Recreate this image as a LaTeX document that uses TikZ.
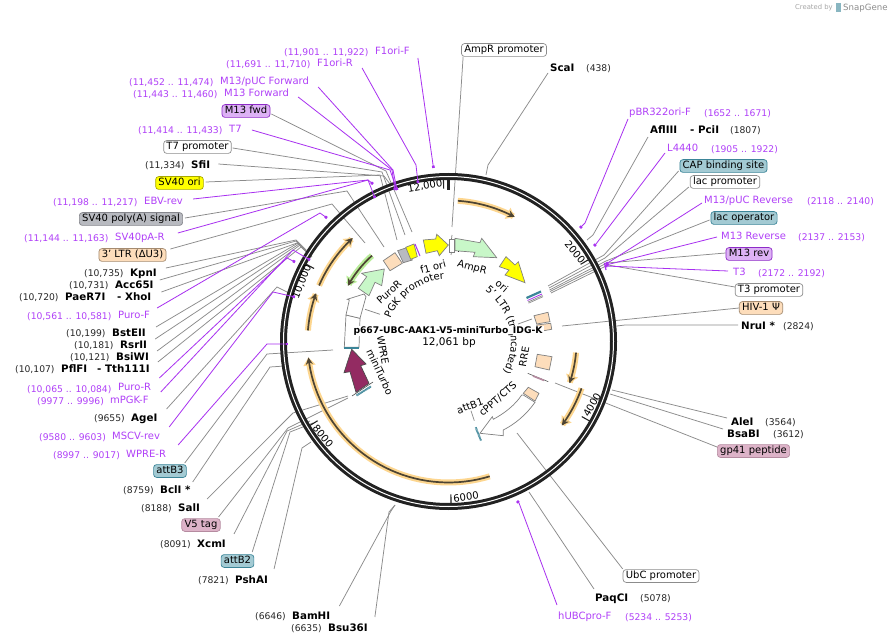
\documentclass[tikz,border=0pt]{standalone}
\usepackage{fontspec}
\setmainfont{DejaVu Sans}
\usetikzlibrary{arrows.meta,decorations.text}
\definecolor{primtxt}{HTML}{B040F8}
\definecolor{primline}{HTML}{A830F0}
\definecolor{leadgrey}{HTML}{8C8C8C}
\definecolor{ringblack}{HTML}{222222}
\definecolor{peach}{HTML}{FDDDBB}
\definecolor{peachd}{HTML}{A58B70}
\definecolor{teal1}{HTML}{A3CAD3}
\definecolor{teal2}{HTML}{3B8598}
\definecolor{mauve}{HTML}{DDB3C8}
\definecolor{mauved}{HTML}{B58BA0}
\definecolor{lilac}{HTML}{DDB2F5}
\definecolor{lilacd}{HTML}{8E2BC8}
\definecolor{greyb}{HTML}{B8BAC0}
\definecolor{greybd}{HTML}{85868C}
\definecolor{sv}{HTML}{FFFF00}
\definecolor{svd}{HTML}{A8A800}
\definecolor{halo}{HTML}{FDD68F}
\definecolor{darkarc}{HTML}{4D4433}
\definecolor{mint}{HTML}{C8F7C8}
\definecolor{haloG}{HTML}{B8EC98}
\definecolor{magenta1}{HTML}{932B62}
\definecolor{featline}{HTML}{808080}
\tikzset{
  enz/.style={anchor=base west,inner sep=0pt,font=\fontsize{10.3}{12}\selectfont\bfseries,text=black},
  posn/.style={anchor=base west,inner sep=0pt,font=\fontsize{9.2}{11}\selectfont,text=black!85},
  prim/.style={anchor=base west,inner sep=0pt,font=\fontsize{10}{12}\selectfont,text=primtxt},
  ppos/.style={anchor=base west,inner sep=0pt,font=\fontsize{9.2}{11}\selectfont,text=primtxt},
  fbox/.style={rounded corners=3pt,line width=.7pt,inner xsep=2.8pt,inner ysep=1.6pt,font=\fontsize{10}{12}\selectfont,text height=7.6pt,text depth=2pt,anchor=center},
  whitebox/.style={fbox,draw=leadgrey,fill=white},
  tealbox/.style={fbox,draw=teal2,fill=teal1},
  peachbox/.style={fbox,draw=peachd,fill=peach},
  mauvebox/.style={fbox,draw=mauved,fill=mauve},
  lilacbox/.style={fbox,draw=lilacd,fill=lilac},
  lead/.style={draw=leadgrey,line width=.75pt},
  plead/.style={draw=primline,line width=.8pt,-{Square[length=2.4pt,width=2.6pt]}},
  plab/.style={font=\fontsize{10}{12}\selectfont,inner sep=0pt},
  tickn/.style={font=\fontsize{10}{12}\selectfont,inner sep=0pt},
  feat/.style={draw=featline,line width=.7pt},
}
\newcommand{\orangearc}[3]{%
  \draw[halo,line width=6pt,-{Triangle[length=8pt,width=12pt]}] plot[domain=#2:#3,samples=40] ({448.5+#1*sin(\x)},{341.5-#1*cos(\x)});
  \draw[darkarc,line width=1.7pt,-{Stealth[length=7pt,width=7pt]}] plot[domain=#2:#3,samples=40] ({448.5+#1*sin(\x)},{341.5-#1*cos(\x)});}
\newcommand{\ringtick}[1]{%
  \draw[ringblack,line width=1.1pt] ({448.5+153*sin(#1)},{341.5-153*cos(#1)}) -- ({448.5+162*sin(#1)},{341.5-162*cos(#1)});}
\begin{document}
\begin{tikzpicture}[x=1pt,y=-1pt]
\useasboundingbox (0,0) rectangle (892,644);
\fill[white] (0,0) rectangle (892,644);

% watermark
\node[anchor=base west,inner sep=0pt,font=\fontsize{6.8}{8}\selectfont,text=black!35] (wm1) at (795,10) {Created by};
\fill[teal2!60] (836,3) rectangle (841,12);
\node[anchor=base west,inner sep=0pt,font=\fontsize{8.6}{10}\selectfont,text=black!45] (wm2) at (843,11) {SnapGene};

% ---------- labels, left
\node[ppos] (f1fp) at (284,56) {(11,901 .. 11,922)};
\node[prim] (f1f) at (375,55) {F1ori-F};
\node[ppos] (f1rp) at (226,68) {(11,691 .. 11,710)};
\node[prim] (f1r) at (317,67) {F1ori-R};
\node[ppos] (mpfp) at (129,86) {(11,452 .. 11,474)};
\node[prim] (mpf) at (220,85) {M13/pUC Forward};
\node[ppos] (mffp) at (133,98) {(11,443 .. 11,460)};
\node[prim] (mff) at (224,97) {M13 Forward};
\node[lilacbox] (mfwd) at (246,111) {M13 fwd};
\node[ppos] (t7pp) at (138,134) {(11,414 .. 11,433)};
\node[prim] (t7) at (229,133) {T7};
\node[whitebox] (t7prom) at (197.5,147) {T7 promoter};
\node[posn] (sfip) at (145,169) {(11,334)};
\node[enz] (sfi) at (191,169) {SfiI};
\node[fbox,draw=svd,fill=sv] (svori) at (179.5,183) {SV40 ori};
\node[ppos] (ebvp) at (53,206) {(11,198 .. 11,217)};
\node[prim] (ebv) at (144,205) {EBV-rev};
\node[fbox,draw=greybd,fill=greyb] (svpa) at (131,219) {SV40 poly(A) signal};
\node[ppos] (sprp) at (24,242) {(11,144 .. 11,163)};
\node[prim] (spr) at (115,241) {SV40pA-R};
\node[peachbox] (ltr3) at (132.5,255) {3' LTR (ΔU3)};
\node[posn] (kpnp) at (84,277) {(10,735)};
\node[enz] (kpn) at (130,277) {KpnI};
\node[posn] (accp) at (69,289) {(10,731)};
\node[enz] (acc) at (115,289) {Acc65I};
\node[posn] (paep) at (19,301) {(10,720)};
\node[enz] (pae) at (65,301) {PaeR7I};
\node[enz] (xho) at (117,301) {- XhoI};
\node[ppos] (pfp) at (27,320) {(10,561 .. 10,581)};
\node[prim] (pf) at (118,319) {Puro-F};
\node[posn] (bstp) at (66,337) {(10,199)};
\node[enz] (bst) at (112,337) {BstEII};
\node[posn] (rsrp) at (74,349) {(10,181)};
\node[enz] (rsr) at (120,349) {RsrII};
\node[posn] (bsip) at (70,361) {(10,121)};
\node[enz] (bsi) at (116,361) {BsiWI};
\node[posn] (pflp) at (15,373) {(10,107)};
\node[enz] (pfl) at (61,373) {PflFI};
\node[enz] (tth) at (97,373) {- Tth111I};
\node[ppos] (prp) at (27,392) {(10,065 .. 10,084)};
\node[prim] (pr) at (118,391) {Puro-R};
\node[ppos] (mpgp) at (37,404) {(9977 .. 9996)};
\node[prim] (mpg) at (110,403) {mPGK-F};
\node[posn] (agep) at (94,421) {(9655)};
\node[enz] (age) at (131,421) {AgeI};
\node[ppos] (mscp) at (39,440) {(9580 .. 9603)};
\node[prim] (msc) at (112,439) {MSCV-rev};
\node[ppos] (wprp) at (53,458) {(8997 .. 9017)};
\node[prim] (wpr) at (126,457) {WPRE-R};
\node[tealbox] (attb3) at (170,471) {attB3};
\node[posn] (bclp) at (123,493) {(8759)};
\node[enz] (bcl) at (160,493) {BclI *};
\node[posn] (salp) at (141,511) {(8188)};
\node[enz] (sal) at (178,511) {SalI};
\node[mauvebox] (v5) at (201,525) {V5 tag};
\node[posn] (xcmp) at (160,547) {(8091)};
\node[enz] (xcm) at (197,547) {XcmI};
\node[tealbox] (attb2) at (237.5,561) {attB2};
\node[posn] (pshp) at (198,583) {(7821)};
\node[enz] (psh) at (235,583) {PshAI};
\node[posn] (bamp) at (255,619) {(6646)};
\node[enz] (bam) at (292,619) {BamHI};
\node[posn] (bsup) at (291,631) {(6635)};
\node[enz] (bsu) at (328,631) {Bsu36I};

% ---------- labels, top and right
\node[whitebox] (ampp) at (504,50) {AmpR promoter};
\node[enz] (sca) at (550,72) {ScaI};
\node[posn] (scap) at (586,72) {(438)};
\node[prim] (pbr) at (629,116) {pBR322ori-F};
\node[ppos] (pbrp) at (704,117) {(1652 .. 1671)};
\node[enz] (afl) at (650,134) {AflIII};
\node[enz] (pci) at (690,134) {- PciI};
\node[posn] (aflp) at (730,134) {(1807)};
\node[prim] (l44) at (667,152) {L4440};
\node[ppos] (l44p) at (711,153) {(1905 .. 1922)};
\node[tealbox] (cap) at (723.5,166) {CAP binding site};
\node[whitebox] (lacp) at (725,182) {lac promoter};
\node[prim] (mpr) at (704,204) {M13/pUC Reverse};
\node[ppos] (mprp) at (807,205) {(2118 .. 2140)};
\node[tealbox] (laco) at (744,218) {lac operator};
\node[prim] (mr) at (721,240) {M13 Reverse};
\node[ppos] (mrp) at (798,241) {(2137 .. 2153)};
\node[lilacbox] (mrev) at (749,254) {M13 rev};
\node[prim] (t3) at (733,276) {T3};
\node[ppos] (t3p) at (758,277) {(2172 .. 2192)};
\node[whitebox] (t3prom) at (769,290) {T3 promoter};
\node[peachbox] (hiv) at (761,308) {HIV-1 Ψ};
\node[enz] (nru) at (741,330) {NruI *};
\node[posn] (nrup) at (783,330) {(2824)};
\node[enz] (ale) at (731,425) {AleI};
\node[posn] (alep) at (765,425) {(3564)};
\node[enz] (bsa) at (727,437) {BsaBI};
\node[posn] (bsap) at (773,437) {(3612)};
\node[mauvebox] (gp) at (753.5,451) {gp41 peptide};
\node[whitebox] (ubc) at (661,576) {UbC promoter};
\node[enz] (paq) at (595,601) {PaqCI};
\node[posn] (paqp) at (640,601) {(5078)};
\node[prim] (hub) at (558,619) {hUBCpro-F};
\node[ppos] (hubp) at (625,620) {(5234 .. 5253)};

% ---------- grey leaders (under ring)
\draw[lead] ([shift={(1,3)}]mfwd.east) -- (386,171) coordinate (mfwdA) -- (412,232) coordinate (mfwdB);
\draw[lead] ([shift={(1,1)}]t7prom.east) -- (382,172) coordinate (t7pA) -- (405,235) coordinate (t7pB);
\draw[lead] ([shift={(8,-5)}]sfi.base east) -- (384,176) coordinate (sfiA) -- (393,188) coordinate (sfiB);
\draw[lead] ([shift={(2,-1)}]svori.east) -- (380,175) coordinate (svoA) -- (397,240) coordinate (svoB);
\draw[lead] ([shift={(2,-1)}]svpa.east) -- (347,191) coordinate (spaA) -- (384,247) coordinate (spaB);
\draw[lead] ([shift={(4,-6)}]ltr3.east) -- (332,204) coordinate (ltrA) -- (365,243) coordinate (ltrB);
\draw[lead] ([shift={(9,-9)}]kpn.base east) -- (296,240) coordinate (kpnA) -- (306,250) coordinate (kpnB);
\draw[lead] ([shift={(6,-9)}]acc.base east) -- (296,241) coordinate (accA) -- (307,252) coordinate (accB);
\draw[lead] ([shift={(10,-9)}]xho.base east) -- (297,243) coordinate (xhoA) -- (308,253) coordinate (xhoB);
\draw[lead] ([shift={(10,-10)}]bst.base east) -- (298,243) coordinate (bstA) -- (309,254) coordinate (bstB);
\draw[lead] ([shift={(8,-10)}]rsr.base east) -- (299,244) coordinate (rsrA) -- (310,255) coordinate (rsrB);
\draw[lead] ([shift={(8,-10)}]bsi.base east) -- (300,245) coordinate (bsiA) -- (311,256) coordinate (bsiB);
\draw[lead] ([shift={(8,-11)}]tth.base east) -- (301,247) coordinate (tthA) -- (312,257) coordinate (tthB);
\draw[lead] ([shift={(9,-12)}]age.base east) -- (277,287) coordinate (ageA) -- (293,295) coordinate (ageB);
\draw[lead] ([shift={(-2,-8)}]attb3.east) -- (267,354) coordinate (att3A) -- (333,350) coordinate (att3B);
\draw[lead] ([shift={(2,-11)}]bcl.base east) -- (270,367) coordinate (bclA) -- (285,366) coordinate (bclB);
\draw[lead] ([shift={(7,-12)}]sal.base east) -- (293,413) coordinate (salA) -- (348,396) coordinate (salB);
\draw[lead] ([shift={(-2,-8)}]v5.east) -- (288,428) coordinate (v5A) -- (348,398) coordinate (v5B);
\draw[lead] ([shift={(8,-13)}]xcm.base east) -- (287,431) coordinate (xcmA) -- (310,421) coordinate (xcmB);
\draw[lead] ([shift={(-2,-9)}]attb2.east) -- (290,432) coordinate (at2A) -- (313,423) coordinate (at2B);
\draw[lead] ([shift={(6,-14)}]psh.base east) -- (302,448) coordinate (pshA) -- (311,442) coordinate (pshB);
\draw[lead] ([shift={(9,-13)}]bam.base east) -- (391,511) coordinate (bamA) -- (395,505) coordinate (bamB);
\draw[lead] ([shift={(7,-14)}]bsu.base east) -- (389,512) coordinate (bsuA) -- (395,505) coordinate (bsuB);
\draw[lead] ([shift={(2,0)}]ampp.south west) -- (452,227) coordinate (amppA);
\draw[lead] ([shift={(-2,1)}]sca.base west) -- (488,165) coordinate (scaA) -- (486,175) coordinate (scaB);
\draw[lead] ([shift={(-2,3)}]afl.base west) -- (593,235) coordinate (aflA) -- (587,240) coordinate (aflB);
\draw[lead] ([shift={(-1,5)}]cap.west) -- (604,255) coordinate (capA) -- (548,286) coordinate (capB);
\draw[lead] ([shift={(-1,5)}]lacp.west) -- (605,258) coordinate (lpA) -- (549,288) coordinate (lpB);
\draw[lead] ([shift={(-1,2)}]laco.west) -- (606,261) coordinate (loA) -- (549.5,290) coordinate (loB);
\draw[lead] ([shift={(0,-1)}]mrev.west) -- (607,263) coordinate (mrA) -- (550,291.5) coordinate (mrB);
\draw[lead] ([shift={(0,-3)}]t3prom.west) -- (608,265) coordinate (t3A) -- (551,293) coordinate (t3B);
\draw[lead] (hiv.west) -- (562,326) coordinate (hivA);
\draw[lead] ([shift={(-3,-5)}]nru.base west) -- (625,325) coordinate (nruA) -- (617,326) coordinate (nruB);
\draw[lead] ([shift={(-4,-7)}]ale.base west) -- (612,390) coordinate (aleA);
\draw[lead] ([shift={(-4,-8)}]bsa.base west) -- (610,394) coordinate (bsaA);
\draw[lead] ([shift={(0,-4)}]gp.west) -- (555,383) coordinate (gpA);
\draw[lead] ([shift={(0,-7)}]ubc.west) -- (517,433) coordinate (ubcA);
\draw[lead] ([shift={(-1,-12)}]paq.base west) -- (529,492) coordinate (paqA);

% ---------- ring
\draw[ringblack,line width=7pt] (448.5,341.5) circle[radius=165pt];
\draw[white,line width=1pt] (448.5,341.5) circle[radius=165pt];
\ringtick{-1.8}\ringtick{59.7}\ringtick{119.4}\ringtick{179.1}\ringtick{238.8}\ringtick{298.5}
\draw[ringblack,line width=3pt] (448.5,178) -- (448.5,190);

\node[tickn,rotate=10] (n12) at (425,186) {12,000};
\node[tickn,rotate=-50] (n2) at (575,252) {2000};
\node[tickn,rotate=60] (n4) at (592,405) {4000};
\node[tickn,rotate=8] (n6) at (466,497) {6000};
\node[tickn,rotate=-50] (n8) at (323,436) {8000};
\node[tickn,rotate=68] (n10) at (302,282) {10,000};

% ---------- purple leaders (over ring)
\draw[plead] ([shift={(8,3)}]f1f.base east) -- (433.5,168) coordinate (f1fA);
\draw[plead] ([shift={(9,1)}]f1r.base east) -- (416,165) coordinate (f1rA) -- (418,183) coordinate (f1rB);
\draw[plead] ([shift={(9,2)}]mpf.base east) -- (393,170) coordinate (mpfA) -- (397,190) coordinate (mpfB);
\draw[plead] ([shift={(9,0)}]mff.base east) -- (392,170) coordinate (mffA) -- (395,190) coordinate (mffB);
\draw[plead] ([shift={(10,-3)}]t7.base east) -- (390,170) coordinate (t7A) -- (397,190) coordinate (t7B);
\draw[plead] ([shift={(10,-6)}]ebv.base east) -- (368,180) coordinate (ebvA) -- (373,184) coordinate (ebvB);
\draw[plead] ([shift={(13,-8)}]spr.base east) -- (368,180) coordinate (sprA) -- (375,198) coordinate (sprB);
\draw[plead] ([shift={(7,-11)}]pf.base east) -- (320,213) coordinate (pfA) -- (327,218) coordinate (pfB);
\draw[plead] ([shift={(8,-13)}]pr.base east) -- (287,258) coordinate (prA) -- (295,262) coordinate (prB);
\draw[plead] ([shift={(12,-11)}]mpg.base east) -- (293,250) coordinate (mpgA) -- (310,260) coordinate (mpgB);
\draw[plead] ([shift={(9,-12)}]msc.base east) -- (273,292) coordinate (mscA) -- (295,297) coordinate (mscB);
\draw[plead] ([shift={(12,-12)}]wpr.base east) -- (267,344) coordinate (wprA) -- (288,344) coordinate (wprB);
\draw[plead] ([shift={(-1,3)}]pbr.base west) -- (585,223) coordinate (pbrA) -- (580,228) coordinate (pbrB);
\draw[plead] ([shift={(-2,1)}]l44.base west) -- (596,244) coordinate (l44A) -- (594,246) coordinate (l44B);
\draw[plead] ([shift={(-2,-1)}]mpr.base west) -- (606,264) coordinate (mprA);
\draw[plead] ([shift={(-4,-3)}]mr.base west) -- (606,265) coordinate (mrrA);
\draw[plead] ([shift={(-5,-5)}]t3.base west) -- (605,266) coordinate (t3rA);
\draw[draw=primline,line width=1.2pt] (604.5,263) -- (606,270);
\draw[plead] ([shift={(-1,-14)}]hub.base west) -- (519,503) coordinate (hubA) -- (517,501) coordinate (hubB);

% ---------- inner arcs
\orangearc{141}{3.8}{28}
\orangearc{128}{95}{109}
\orangearc{141}{109.4}{126.5}
\orangearc{141}{163}{263.5}
\orangearc{141}{274.5}{290}
\orangearc{141}{293.4}{317.2}
\draw[haloG,line width=6pt,{Triangle[length=8pt,width=12pt]}-] plot[domain=299:318.3,samples=25] ({448.5+115*sin(\x)},{341.5-115*cos(\x)});
\draw[darkarc,line width=1.7pt,{Stealth[length=7pt,width=7pt]}-] plot[domain=299:318.3,samples=25] ({448.5+115*sin(\x)},{341.5-115*cos(\x)});

% ---------- features
\draw[feat,fill=sv] (423.3,240) -- (435.7,239) -- (436.7,234.3) -- (448.3,245) -- (439.3,255.7) -- (437.3,250.7) -- (426,253.3) -- cycle;
\draw[feat,fill=white] (449.3,239) rectangle (454,252);
\draw[feat] (452,235) -- (451.5,239) (451.5,252) -- (451,255);
\draw[black,line width=.7pt,densely dotted] (458,239) -- (458,252);
\draw[feat,fill=mint] (455,238.3) -- (480,242.7) -- (481.7,238.3) -- (496.7,257.7) -- (473.3,256.7) -- (475,252.3) -- (455,250.7) -- cycle;
\draw[feat,fill=sv] (506,256.7) -- (515,265) -- (518.3,261.7) -- (525,282.7) -- (505,275) -- (509,270) -- (499.3,266.7) -- cycle;
% thin feature bundle
\draw[teal2,line width=2.2pt] (526.5,298) -- (541,291.5);
\draw[primline,line width=.8pt] (527.5,300.5) -- (542,294);
\draw[featline,line width=.6pt] (528,302) -- (542.5,295.5) (528.5,303.2) -- (543,296.7);
% peach boxes
\draw[feat,fill=peach] (534,315.7) -- (548,312.3) -- (550,321.7) -- (536.7,324) -- cycle;
\draw[feat,fill=peach] (536.7,325) -- (550.7,323.3) -- (551.7,329.3) -- (538.3,331.7) -- cycle;
\draw[feat,fill=peach] (537.3,354.3) -- (552,356.7) -- (549.3,370) -- (535,366.7) -- cycle;
\draw[featline!70!black,line width=.6pt] (527.7,373.3) -- (548.3,381.7);
\draw[mauved,line width=1.6pt] (533,376) -- (544,380.4);
% cPPT and UbC
\draw[feat,fill=peach] (528.3,387.3) -- (539,393.3) -- (535,401) -- (523.3,393.3) -- cycle;
\draw[feat,fill=white] (523.3,395) -- (535,402.3) .. controls (526,415) and (515,424) .. (503.3,430) -- (503.3,435.7) -- (480,433.3) -- (492.3,416.7) -- (493.3,419.3) .. controls (505,413) and (515,405) .. (521.7,395) -- cycle;
\draw[teal2,line width=2pt,dash pattern=on .8pt off .5pt] (475.7,427.3) -- (481,440.7);
% left features
\draw[feat,fill=magenta1,draw=black!70] (351.7,349.3) -- (366,364) -- (360.7,365.7) -- (369,383.3) -- (356,392.3) -- (350,371.7) -- (344,372.7) -- cycle;
\draw[black!70,line width=.6pt] (352,396) -- (373,382);
\draw[teal2,line width=2pt,dash pattern=on .8pt off .5pt] (356.5,395.5) -- (371,386.5);
\draw[feat,fill=white] (344.3,347.3) -- (346,315) -- (360,318.3) -- (359,347.3) -- cycle;
\draw[feat,fill=white] (346,315) -- (349.3,300) -- (347.3,299.3) -- (364,294) -- (366,296.7) -- (360,318.3) -- cycle;
\draw[teal2,line width=2pt] (344,348.5) -- (359,348.5);
\draw[feat,fill=mint] (384.3,269) -- (381.7,285.7) -- (375,282.3) -- (369,295.7) -- (358.3,288.3) -- (366.7,276.7) -- (361.7,273.3) -- cycle;
\draw[feat,fill=peach] (383.3,260.7) -- (395,252.7) -- (402.3,263.3) -- (390,270.7) -- cycle;
\draw[feat,fill=greyb] (397.7,250.7) -- (407.7,247.3) -- (412.3,260) -- (403.3,262.7) -- cycle;
\draw[feat,fill=sv] (405.7,247.3) -- (414,244) -- (417.3,256.7) -- (410.7,259.3) -- cycle;
\draw[primline,line width=1pt] (415,244) -- (420,256);
% short leaders of inner labels
\draw[lead] (365,309.3) coordinate (pgkL1) -- (380,314.3) coordinate (pgkL2);
\draw[lead] (518,324) coordinate (ltrL1) -- (532,319) coordinate (ltrL2);
\draw[lead] (471,410.7) coordinate (atL1) -- (474.3,420.7) coordinate (atL2);

% ---------- inner labels
\node[plab,rotate=15] (lf1) at (433,267) {f1 ori};
\node[plab,rotate=-15] (lamp) at (472,268) {AmpR};
\node[plab,rotate=-40] (lori) at (502,286) {ori};
\node[plab,rotate=42] (lpur) at (389,292) {PuroR};
\node[plab,rotate=-80] (lwpr) at (383,350) {WPRE};
\node[plab,rotate=-65] (lmin) at (380,372) {miniTurbo};
\node[plab,rotate=80] (lrre) at (524,357) {RRE};
\node[plab,rotate=42] (lcpp) at (498,399) {cPPT/CTS};
\node[plab,rotate=20] (latt) at (470,406) {attB1};
\path[decorate,decoration={text along path,text align=center,text={|\fontsize{10}{12}\selectfont|PGK promoter}}] plot[domain=-70:-2,samples=40] ({448.5+62.5*sin(\x)},{341.5-62.5*cos(\x)});
\path[decorate,decoration={text along path,text align=center,text={|\fontsize{10}{12}\selectfont|5' LTR (truncated)}}] plot[domain=33:122,samples=50] ({448.5+62.5*sin(\x)},{341.5-62.5*cos(\x)});

% ---------- title
\node[fill=white,inner xsep=1pt,inner ysep=0pt,font=\fontsize{9.2}{11}\selectfont\bfseries] (title) at (448,331) {p667-UBC-AAK1-V5-miniTurbo\_IDG-K};
\node[inner sep=0pt,font=\fontsize{10.5}{12}\selectfont] (bp) at (449,343) {12,061 bp};
\end{tikzpicture}
\end{document}
